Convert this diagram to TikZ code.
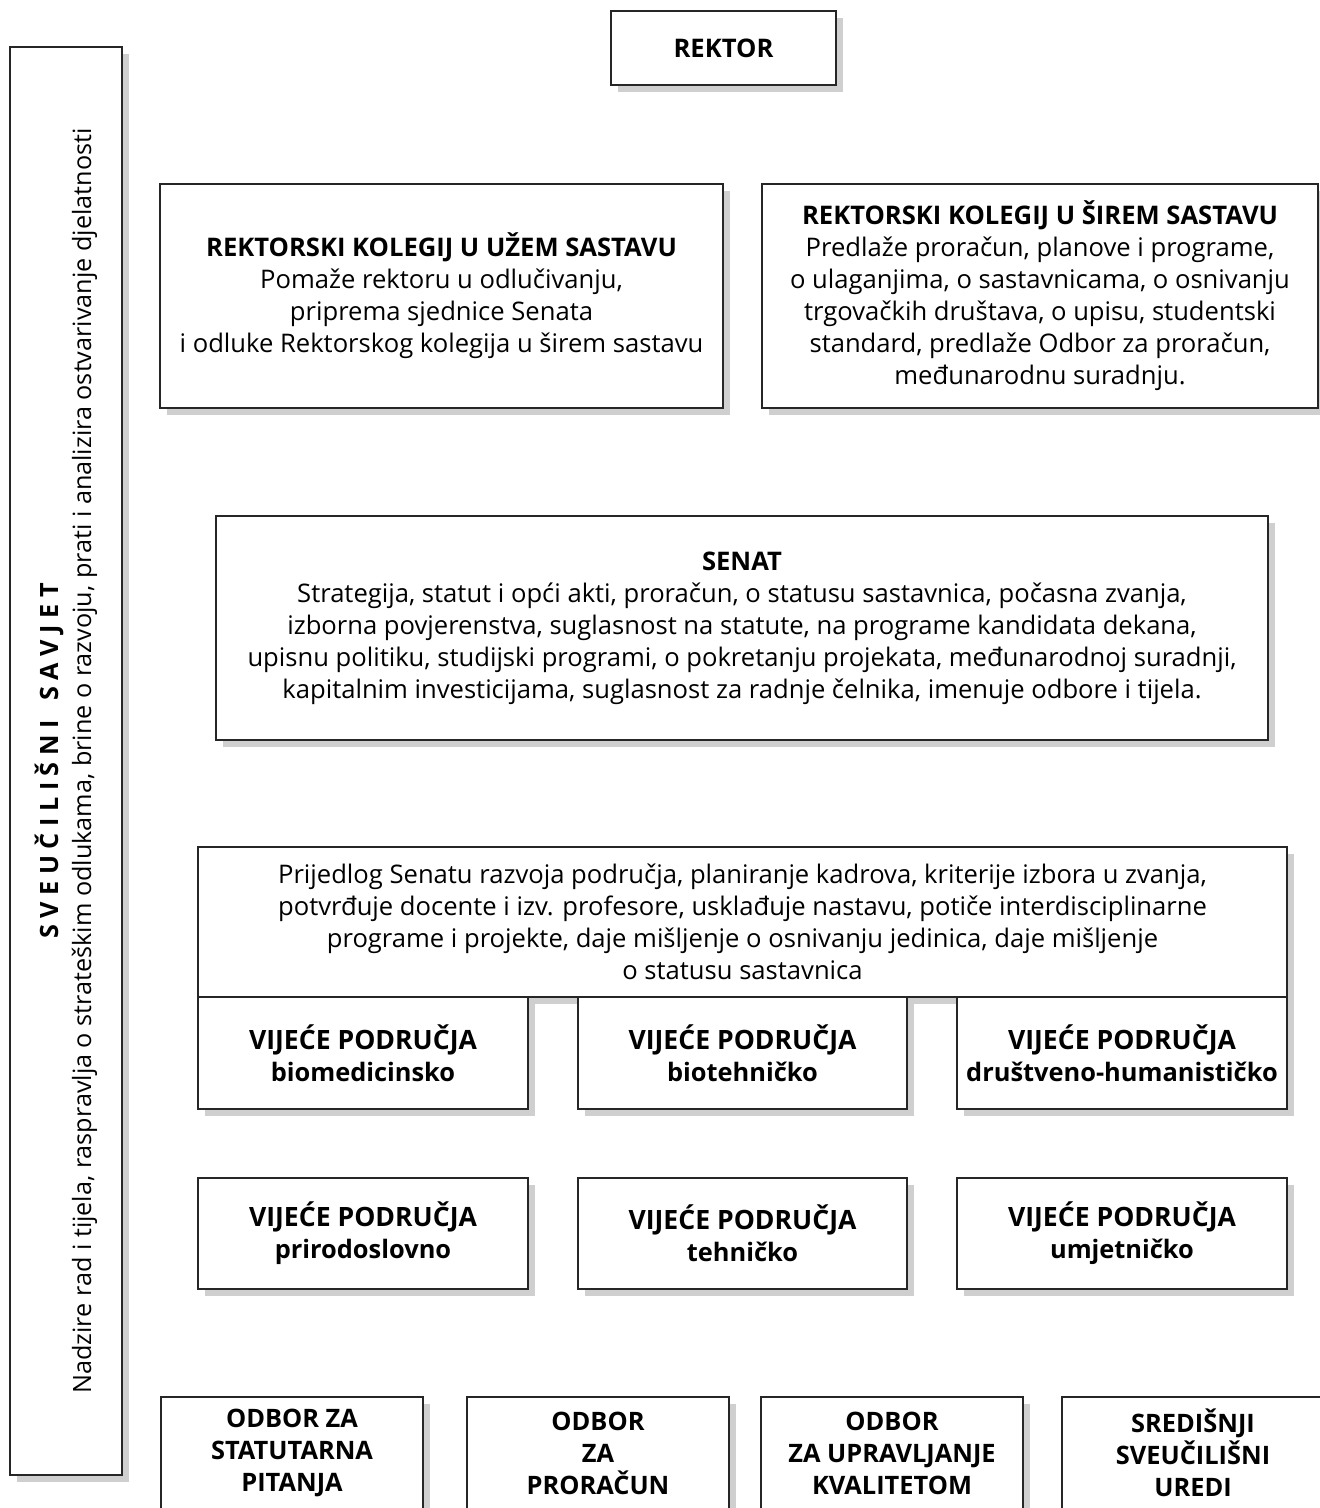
\documentclass[tikz,border=0pt]{standalone}
\usepackage{fontspec}
\setmainfont{Open Sans}
\begin{document}
\begin{tikzpicture}[x=0.5pt,y=-0.5pt,
  box/.style={draw=black!85, fill=white, line width=0.65pt, inner sep=0pt, align=center,
    font=\fontsize{12.8}{16}\selectfont},
  vp/.style={font=\fontsize{13.3}{16}\selectfont\bfseries},
  od/.style={font=\fontsize{12.7}{16}\selectfont\bfseries},
  shadowc/.style={fill=black!19}]
\useasboundingbox (0,0) rectangle (1320,1508);
\clip (0,0) rectangle (1320,1508);
\newcommand\bx[7][]{%
  \fill[shadowc] (#3+7,#4+7) rectangle (#5+7,#6+7);
  \node[box, #1, minimum width={(#5-#3)*0.5pt}, minimum height={(#6-#4)*0.5pt}] (#2) at ({(#3+#5)/2},{(#4+#6)/2}) {#7};}
\newcommand\lc[1]{{\fontsize{12.7}{16}\selectfont #1}}
% left column
\fill[shadowc] (17,54) rectangle (129,1482);
\node[box, rotate=90, font=\fontsize{12.6}{16.5}\selectfont, minimum width={1428*0.5pt}, minimum height={112*0.5pt}] (savjet) at (66,761)
  {{\bfseries S V E U Č I L I Š N I \ \ S A V J E T}\\
   Nadzire rad i tijela, raspravlja o strateškim odlukama, brine o razvoju, prati i analizira ostvarivanje djelatnosti};
\bx{rektor}{611}{11}{836}{85}{\textbf{REKTOR}}
\bx{uzi}{160}{184}{723}{408}{\textbf{REKTORSKI KOLEGIJ U UŽEM SASTAVU}\\
  Pomaže rektoru u odlučivanju,\\ priprema sjednice Senata\\ i odluke Rektorskog kolegija u širem sastavu}
\bx{siri}{762}{184}{1318}{408}{\textbf{REKTORSKI KOLEGIJ U ŠIREM SASTAVU}\\
  Predlaže proračun, planove i programe,\\ o ulaganjima, o sastavnicama, o osnivanju\\
  trgovačkih društava, o upisu, studentski\\ standard, predlaže Odbor za proračun,\\ međunarodnu suradnju.}
\bx{senat}{216}{516}{1268}{740}{\textbf{SENAT}\\
  Strategija, statut i opći akti, proračun, o statusu sastavnica, počasna zvanja,\\
  izborna povjerenstva, suglasnost na statute, na programe kandidata dekana,\\
  upisnu politiku, studijski programi, o pokretanju projekata, međunarodnoj suradnji,\\
  kapitalnim investicijama, suglasnost za radnje čelnika, imenuje odbore i tijela.}
\bx{vijeca}{198}{847}{1287}{997}{Prijedlog Senatu razvoja područja, planiranje kadrova, kriterije izbora u zvanja,\\
  potvrđuje docente i izv. profesore, usklađuje nastavu, potiče interdisciplinarne\\
  programe i projekte, daje mišljenje o osnivanju jedinica, daje mišljenje\\ o statusu sastavnica}
\bx[vp]{bio}{198}{997}{528}{1109}{VIJEĆE PODRUČJA\\ \lc{biomedicinsko}}
\bx[vp]{biot}{578}{997}{907}{1109}{VIJEĆE PODRUČJA\\ \lc{biotehničko}}
\bx[vp]{drus}{957}{997}{1287}{1109}{VIJEĆE PODRUČJA\\ \lc{društveno-humanističko}}
\bx[vp]{prir}{198}{1178}{528}{1289}{VIJEĆE PODRUČJA\\ \lc{prirodoslovno}}
\bx[vp]{teh}{578}{1178}{907}{1289}{VIJEĆE PODRUČJA\\ \lc{tehničko}}
\bx[vp]{umj}{957}{1178}{1287}{1289}{VIJEĆE PODRUČJA\\ \lc{umjetničko}}
\bx[od]{statut}{161}{1397}{423}{1509}{ODBOR ZA\\ STATUTARNA\\ PITANJA}
\bx[od]{pror}{467}{1397}{729}{1509}{ODBOR\\ ZA\\ PRORAČUN}
\bx[od]{kval}{761}{1397}{1023}{1509}{ODBOR\\ ZA UPRAVLJANJE\\ KVALITETOM}
\bx[od]{uredi}{1062}{1397}{1324}{1509}{SREDIŠNJI\\ SVEUČILIŠNI\\ UREDI}
\end{tikzpicture}
\end{document}
